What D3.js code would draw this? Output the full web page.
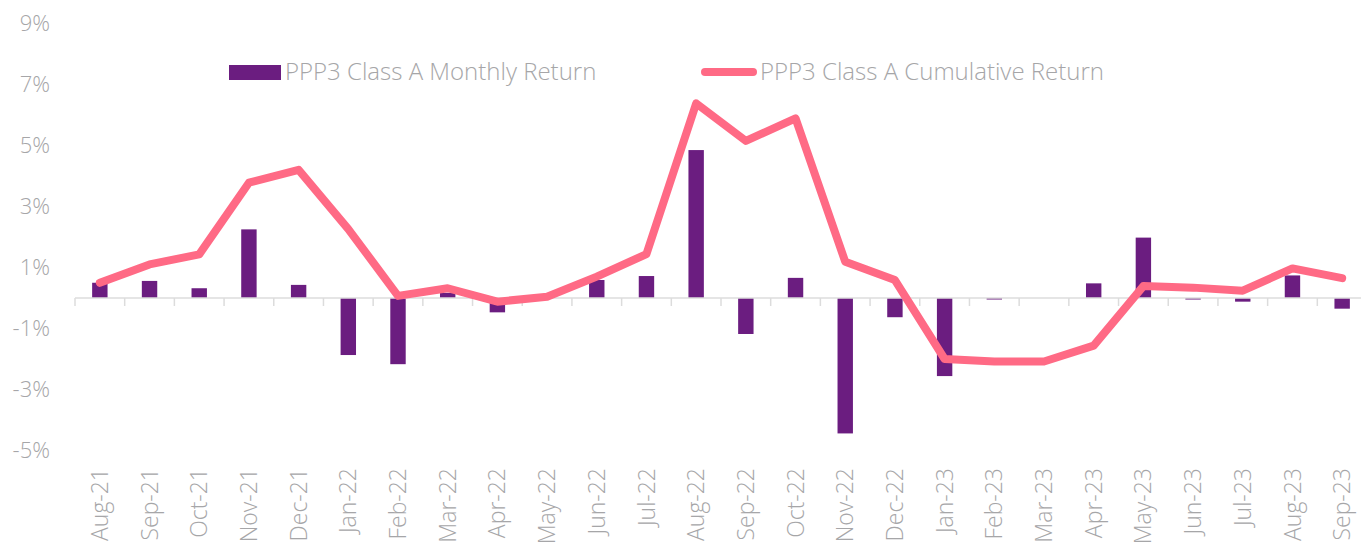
<!DOCTYPE html>
<html>
<head>
<meta charset="utf-8">
<script src="https://cdn.jsdelivr.net/npm/d3@7"></script>
<style>
  body { margin: 0; background: #fff; }
  text { font-family: "Open Sans", sans-serif; font-weight: 300; fill: #a6a6a8; }
</style>
</head>
<body>
<script>
const months = ["Aug-21","Sep-21","Oct-21","Nov-21","Dec-21","Jan-22","Feb-22","Mar-22","Apr-22","May-22",
  "Jun-22","Jul-22","Aug-22","Sep-22","Oct-22","Nov-22","Dec-22","Jan-23","Feb-23","Mar-23",
  "Apr-23","May-23","Jun-23","Jul-23","Aug-23","Sep-23"];
const monthly = [0.50, 0.56, 0.32, 2.25, 0.43, -1.87, -2.17, 0.17, -0.47, 0.12,
  0.59, 0.72, 4.85, -1.18, 0.66, -4.44, -0.63, -2.56, -0.05, 0,
  0.48, 1.98, -0.05, -0.12, 0.74, -0.35];
const cumulative = [0.50, 1.10, 1.43, 3.78, 4.20, 2.26, 0.07, 0.32, -0.12, 0.04,
  0.70, 1.44, 6.38, 5.15, 5.89, 1.19, 0.59, -2.00, -2.08, -2.08,
  -1.56, 0.39, 0.34, 0.24, 0.97, 0.65];
const yTicks = [-5, -3, -1, 1, 3, 5, 7, 9];
const seriesNames = ["PPP3 Class A Monthly Return", "PPP3 Class A Cumulative Return"];

const w = 1361, h = 542;
const barColor = "#6b1d80", lineColor = "#ff6a85";

const svg = d3.select("body").append("svg")
  .attr("width", w)
  .attr("height", h);

const x = d3.scaleBand()
  .domain(months)
  .range([75, 1367])
  .paddingInner(0.69)
  .paddingOuter(0.345);

const y = d3.scaleLinear()
  .domain([-5, 9])
  .range([450.5, 23.5]);

// y labels (no axis line)
svg.append("g")
  .selectAll("text")
  .data(yTicks)
  .enter()
  .append("text")
  .attr("x", 50)
  .attr("y", d => y(d))
  .attr("dy", "0.35em")
  .attr("text-anchor", "end")
  .style("font-size", "22px")
  .text(d => d + "%");

// bars
svg.append("g")
  .selectAll("rect")
  .data(monthly)
  .enter()
  .append("rect")
  .attr("x", (d, i) => x(months[i]))
  .attr("width", x.bandwidth())
  .attr("y", d => y(Math.max(0, d)))
  .attr("height", d => Math.abs(y(d) - y(0)))
  .attr("fill", barColor);

// category axis at zero
const step = x.step();
const xAxis = svg.append("g").attr("class", "x-axis");
xAxis.append("line")
  .attr("x1", 75).attr("x2", w)
  .attr("y1", y(0)).attr("y2", y(0))
  .attr("stroke", "#dcdcdc")
  .attr("stroke-width", 1.5);
xAxis.selectAll(".tick")
  .data(d3.range(months.length + 1))
  .enter()
  .append("line")
  .attr("x1", i => 75 + i * step).attr("x2", i => 75 + i * step)
  .attr("y1", y(0)).attr("y2", y(0) + 8)
  .attr("stroke", "#dcdcdc")
  .attr("stroke-width", 1.5);

svg.append("g")
  .selectAll("text")
  .data(months)
  .enter()
  .append("text")
  .attr("transform", d => `translate(${x(d) + x.bandwidth() / 2}, 468) rotate(-90)`)
  .attr("dy", "0.35em")
  .attr("text-anchor", "end")
  .style("font-size", "23px")
  .text(d => d);

// cumulative line
const line = d3.line()
  .x((d, i) => x(months[i]) + x.bandwidth() / 2)
  .y(d => y(d));

svg.append("path")
  .datum(cumulative)
  .attr("d", line)
  .attr("fill", "none")
  .attr("stroke", lineColor)
  .attr("stroke-width", 8)
  .attr("stroke-linejoin", "round")
  .attr("stroke-linecap", "round");

// legend
const legend = svg.append("g").attr("id", "legend");
legend.append("rect")
  .attr("x", 229).attr("y", 65)
  .attr("width", 52).attr("height", 15)
  .attr("fill", barColor);
legend.append("text")
  .attr("x", 285).attr("y", 72)
  .attr("dy", "0.35em")
  .style("font-size", "24px")
  .text(seriesNames[0]);
legend.append("line")
  .attr("x1", 705).attr("x2", 753)
  .attr("y1", 72).attr("y2", 72)
  .attr("stroke", lineColor)
  .attr("stroke-width", 8)
  .attr("stroke-linecap", "round");
legend.append("text")
  .attr("x", 760).attr("y", 72)
  .attr("dy", "0.35em")
  .style("font-size", "24px")
  .text(seriesNames[1]);
</script>
</body>
</html>
